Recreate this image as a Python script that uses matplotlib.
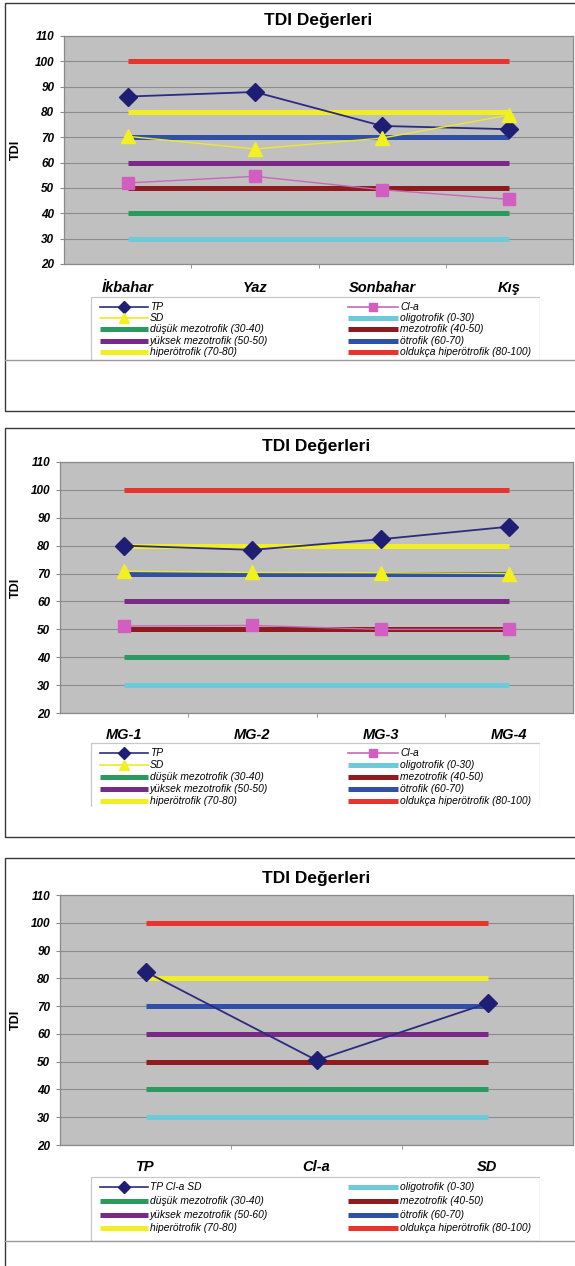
import numpy as np
import matplotlib
matplotlib.use("Agg")
import matplotlib.pyplot as plt
from matplotlib.patches import Rectangle
from matplotlib.lines import Line2D
from matplotlib import font_manager

W, H = 575, 1266

# ---------------- data ----------------
seasons = ["İkbahar", "Yaz", "Sonbahar", "Kış"]
tp_season = [86.1, 87.9, 74.5, 73.2]
cla_season = [52.0, 54.6, 49.3, 45.5]
sd_season = [70.4, 65.4, 69.7, 78.8]

stations = ["MG-1", "MG-2", "MG-3", "MG-4"]
tp_station = [80.0, 78.5, 82.3, 86.8]
cla_station = [51.2, 51.4, 50.0, 50.0]
sd_station = [70.8, 70.4, 70.3, 70.0]

params = ["TP", "Cl-a", "SD"]
tdi_params = [82.4, 50.5, 71.0]

class_levels = [30, 40, 50, 60, 70, 80, 100]
class_names_sites = ["oligotrofik (0-30)", "düşük mezotrofik (30-40)",
                     "mezotrofik (40-50)", "yüksek mezotrofik (50-50)",
                     "ötrofik (60-70)", "hiperötrofik (70-80)",
                     "oldukça hiperötrofik (80-100)"]
class_names = ["oligotrofik (0-30)", "düşük mezotrofik (30-40)",
               "mezotrofik (40-50)", "yüksek mezotrofik (50-60)",
               "ötrofik (60-70)", "hiperötrofik (70-80)",
               "oldukça hiperötrofik (80-100)"]
class_colors = ["#6FCAD8", "#2A9A5E", "#8E1B1E", "#7A2A86",
                "#3050A8", "#F2EE24", "#E8342C"]

y_ticks = [20, 30, 40, 50, 60, 70, 80, 90, 100, 110]
title_text = "TDI Değerleri"
y_label = "TDI"

# ---------------- styles ----------------
installed = {f.name for f in font_manager.fontManager.ttflist}
FONT = "Liberation Sans" if "Liberation Sans" in installed else "DejaVu Sans"
NARROW = "Liberation Sans Narrow" if "Liberation Sans Narrow" in installed else FONT
plt.rcParams["font.family"] = [FONT, "DejaVu Sans"]

STY = {
    "TP": dict(color="#2B2B82", lw=1.3, marker="D", ms=9,
               mfc="#1E1E74", mec="#1E1E74"),
    "Cl-a": dict(color="#C767BA", lw=1.0, marker="s", ms=9,
                 mfc="#D25EC2", mec="#D25EC2"),
    "SD": dict(color="#ECEA2A", lw=1.0, marker="^", ms=10,
               mfc="#F2F020", mec="#F2F020"),
}
REF_LW = 3.6

fig = plt.figure(figsize=(W / 100, H / 100), dpi=100)
fig.patch.set_facecolor("white")


def fbox(l, t, r, b):
    return [l / W, 1 - b / H, (r - l) / W, (b - t) / H]


def frame(l, t, r, b, color="#3a3a3a", lw=1.0):
    fig.patches.append(Rectangle((l / W, 1 - b / H), (r - l) / W, (b - t) / H,
                                 transform=fig.transFigure, fill=False,
                                 edgecolor=color, lw=lw, zorder=0))


def hline_fig(y, l, r, color="#9a9a9a", lw=1.0):
    fig.add_artist(Line2D([l / W, r / W], [1 - y / H, 1 - y / H],
                          transform=fig.transFigure, color=color, lw=lw))


def make_axes(l, t, r, b, cats, xpad):
    ax = fig.add_axes(fbox(l, t, r, b))
    n = len(cats)
    ax.set_facecolor("#C0C0C0")
    ax.set_xlim(-0.5, n - 0.5)
    ax.set_ylim(20, 110)
    ax.set_yticks(y_ticks)
    ax.set_yticklabels([str(v) for v in y_ticks], fontsize=8.5,
                       fontweight="bold", fontstyle="italic")
    ax.set_xticks(range(n))
    ax.set_xticklabels(cats, fontsize=10.5, fontweight="bold",
                       fontstyle="italic")
    ax.set_xticks([k + 0.5 for k in range(n - 1)], minor=True)
    ax.tick_params(axis="x", which="major", length=0, pad=xpad)
    ax.tick_params(axis="x", which="minor", length=3, color="#8a8a8a")
    ax.tick_params(axis="y", length=3, color="#8a8a8a", pad=4)
    ax.grid(axis="y", color="#8C8C8C", lw=0.8)
    ax.set_axisbelow(True)
    for s in ax.spines.values():
        s.set_color("#8a8a8a")
        s.set_linewidth(0.9)
    return ax


def draw_classes(ax, n):
    x = np.arange(n)
    for lev, col in zip(class_levels, class_colors):
        ax.plot(x, [lev] * n, color=col, lw=REF_LW,
                solid_capstyle="butt", zorder=2)


def draw_series(ax, vals, key):
    s = STY[key]
    ax.plot(range(len(vals)), vals, color=s["color"], lw=s["lw"],
            marker=s["marker"], ms=s["ms"], mfc=s["mfc"], mec=s["mec"],
            zorder=4)


def titles(l, r, t, b, ty):
    fig.text(((l + r) / 2) / W, 1 - ty / H, title_text, ha="center",
             va="center", fontsize=12.5, fontweight="bold",
             family=[NARROW, "DejaVu Sans"])
    fig.text(16 / W, 1 - ((t + b) / 2) / H, y_label, rotation=90,
             ha="center", va="center", fontsize=9, fontweight="bold")


def legend(entries, x0, x1, top, clip, row0, dy, frame_bottom):
    lax = fig.add_axes(fbox(x0, top, x1, clip))
    lax.set_xlim(x0, x1)
    lax.set_ylim(clip, top)
    lax.axis("off")
    lax.add_patch(Rectangle((x0 + 0.5, top + 0.5), x1 - x0 - 1,
                            frame_bottom - top - 1, facecolor="white",
                            edgecolor="#c8c8c8", lw=0.9, clip_on=True))
    hx = [(100, 148), (348, 398)]
    for i, (kind, style, label) in enumerate(entries):
        r, c = divmod(i, 2)
        y = row0 + r * dy
        a, b = hx[c]
        if kind == "series":
            s = STY[style]
            lax.plot([a, b], [y, y], color=s["color"], lw=1.2, clip_on=True)
            lax.plot([(a + b) / 2], [y], marker=s["marker"], ms=s["ms"] * 0.7,
                     mfc=s["mfc"], mec=s["mec"], clip_on=True)
        else:
            lax.plot([a, b], [y, y], color=style, lw=REF_LW,
                     solid_capstyle="butt", clip_on=True)
        lax.text(b + 2, y, label, ha="left", va="center", fontsize=7.4,
                 fontstyle="italic", clip_on=True)


# ---------------- panel 1: seasons ----------------
frame(5, 3, 577, 411)
l, t, r, b = 64, 36, 573, 264
ax1 = make_axes(l, t, r, b, seasons, 12)
draw_classes(ax1, len(seasons))
draw_series(ax1, tp_season, "TP")
draw_series(ax1, cla_season, "Cl-a")
draw_series(ax1, sd_season, "SD")
titles(l, r, t, b, 21)
entries1 = [("series", "TP", "TP"), ("series", "Cl-a", "Cl-a"),
            ("series", "SD", "SD")]
entries1 += [("class", c, n) for c, n in zip(class_colors, class_names_sites)]
legend(entries1, 90, 540, 296, 360, 306.5, 11.4, 370)
hline_fig(360, 5, 577)

# ---------------- panel 2: stations ----------------
frame(5, 428, 577, 837)
l, t, r, b = 60, 462, 573, 713
ax2 = make_axes(l, t, r, b, stations, 10.5)
draw_classes(ax2, len(stations))
draw_series(ax2, tp_station, "TP")
draw_series(ax2, cla_station, "Cl-a")
draw_series(ax2, sd_station, "SD")
titles(l, r, t, b, 447)
entries2 = [("series", "TP", "TP"), ("series", "Cl-a", "Cl-a"),
            ("series", "SD", "SD")]
entries2 += [("class", c, n) for c, n in zip(class_colors, class_names_sites)]
legend(entries2, 90, 540, 742, 807, 753, 12.0, 815)

# ---------------- panel 3: parameters ----------------
frame(5, 858, 577, 1275)
l, t, r, b = 60, 895, 573, 1145
ax3 = make_axes(l, t, r, b, params, 11)
draw_classes(ax3, len(params))
draw_series(ax3, tdi_params, "TP")
titles(l, r, t, b, 878)
entries3 = [("series", "TP", "TP Cl-a SD")]
entries3 += [("class", c, n) for c, n in zip(class_colors, class_names)]
legend(entries3, 90, 540, 1176, 1241, 1187, 13.8, 1241)
hline_fig(1241, 5, 577)

fig.savefig("out.png", dpi=100, facecolor="white")
